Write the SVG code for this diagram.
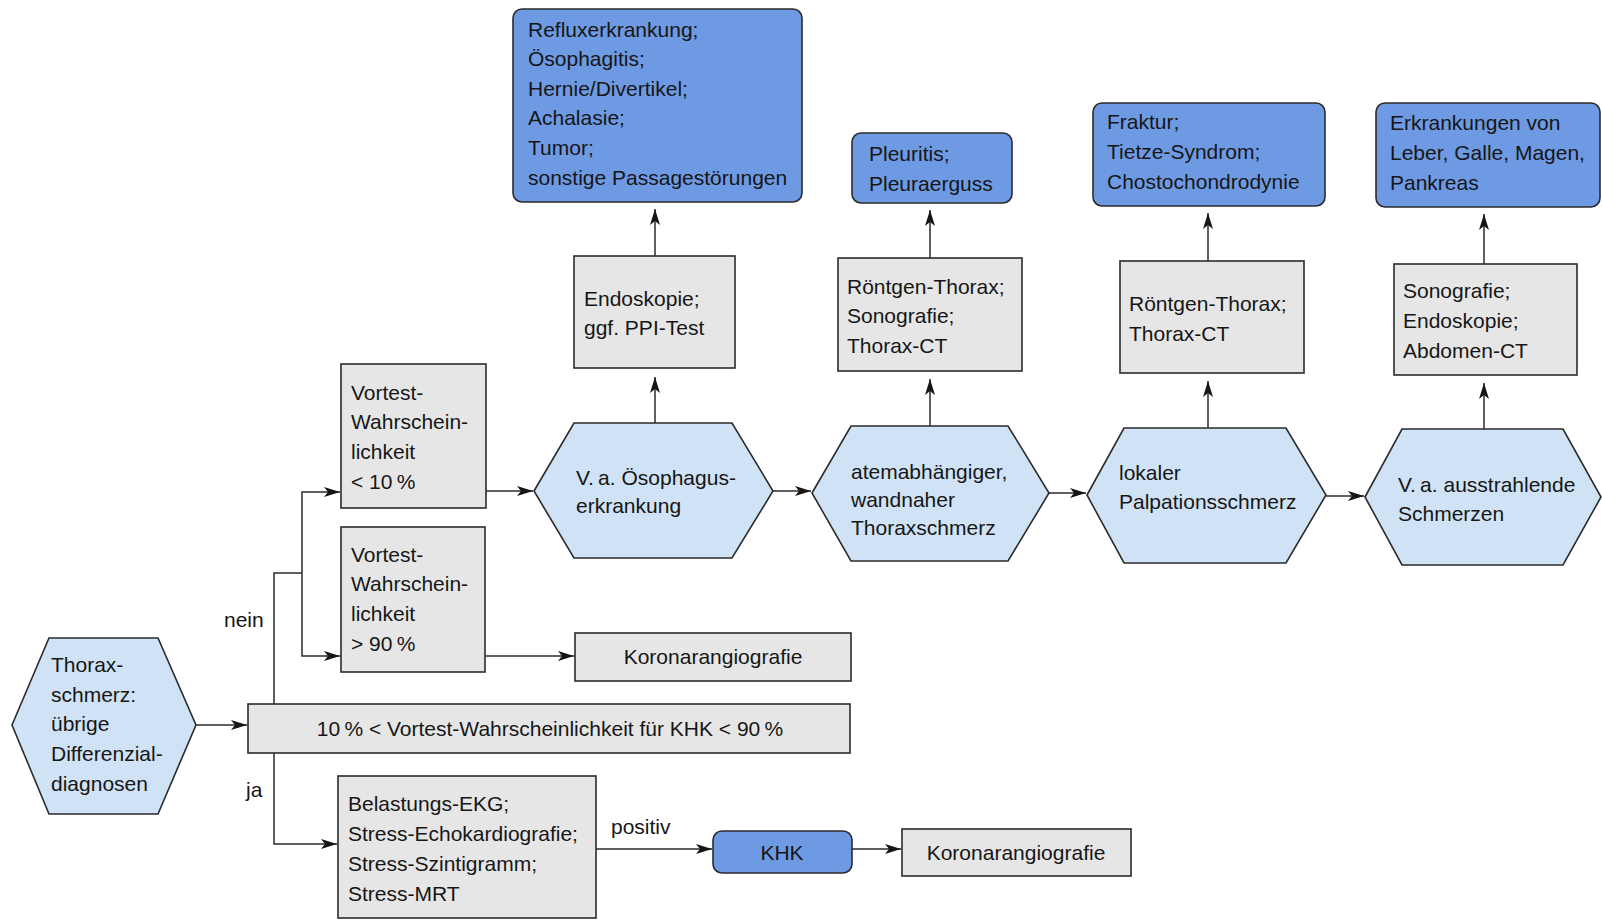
<svg xmlns="http://www.w3.org/2000/svg" width="1602" height="920" viewBox="0 0 1602 920">
<defs>
<style>
text{font-family:"Liberation Sans",Arial,sans-serif;font-size:21px;fill:#161616}
.mid{text-anchor:middle}
.hex{fill:#d0e2f5;stroke:#2b2b2b;stroke-width:1.6}
.grey{fill:#e6e6e6;stroke:#2b2b2b;stroke-width:1.6}
.dark{fill:#6e9ae4;stroke:#2b2b2b;stroke-width:1.6}
.conn path{fill:none;stroke:#2b2b2b;stroke-width:1.5}
</style>
<marker id="ah" viewBox="0 0 16 10" refX="16" refY="5" markerWidth="16" markerHeight="10" orient="auto" markerUnits="userSpaceOnUse"><path d="M0,0 L16,5 L0,10 L4,5 z" fill="#161616"/></marker>
</defs>
<rect width="1602" height="920" fill="#ffffff"/>

<g class="conn">
<path d="M196,725 H247" marker-end="url(#ah)"/>
<path d="M274,704 V573 H302"/>
<path d="M302,573 V492 H340" marker-end="url(#ah)"/>
<path d="M302,573 V656 H340" marker-end="url(#ah)"/>
<path d="M274,753 V844 H337" marker-end="url(#ah)"/>
<path d="M486,491 H533" marker-end="url(#ah)"/>
<path d="M485,656 H574" marker-end="url(#ah)"/>
<path d="M596,849 H712" marker-end="url(#ah)"/>
<path d="M852,849 H901" marker-end="url(#ah)"/>
<path d="M773,491 H811" marker-end="url(#ah)"/>
<path d="M1049,493 H1086" marker-end="url(#ah)"/>
<path d="M1326,496 H1364" marker-end="url(#ah)"/>
<path d="M655,423 V377" marker-end="url(#ah)"/>
<path d="M655,256 V209" marker-end="url(#ah)"/>
<path d="M930,426 V379" marker-end="url(#ah)"/>
<path d="M930,258 V210" marker-end="url(#ah)"/>
<path d="M1208,428 V381" marker-end="url(#ah)"/>
<path d="M1208,261 V213" marker-end="url(#ah)"/>
<path d="M1484,429 V383" marker-end="url(#ah)"/>
<path d="M1484,264 V214" marker-end="url(#ah)"/>
</g>

<g id="thorax">
<polygon class="hex" points="12,725 49,638 158,638 196,725 158,814 49,814"/>
<text x="51" y="672">Thorax-</text>
<text x="51" y="702">schmerz:</text>
<text x="51" y="731">übrige</text>
<text x="51" y="761">Differenzial-</text>
<text x="51" y="791">diagnosen</text>
</g>

<g id="range">
<rect class="grey" x="248" y="704" width="602" height="49"/>
<text class="mid" x="550" y="736">10&#8201;% &lt; Vortest-Wahrscheinlichkeit für KHK &lt; 90&#8201;%</text>
</g>

<g id="v10">
<rect class="grey" x="341" y="364" width="145" height="144"/>
<text x="351" y="400">Vortest-</text>
<text x="351" y="429">Wahrschein-</text>
<text x="351" y="459">lichkeit</text>
<text x="351" y="489">&lt; 10&#8201;%</text>
</g>

<g id="v90">
<rect class="grey" x="341" y="527" width="144" height="145"/>
<text x="351" y="562">Vortest-</text>
<text x="351" y="591">Wahrschein-</text>
<text x="351" y="621">lichkeit</text>
<text x="351" y="651">&gt; 90&#8201;%</text>
</g>

<g id="korona1">
<rect class="grey" x="575" y="633" width="276" height="48"/>
<text class="mid" x="713" y="664">Koronarangiografie</text>
</g>

<g id="belastung">
<rect class="grey" x="338" y="776" width="258" height="142"/>
<text x="348" y="811">Belastungs-EKG;</text>
<text x="348" y="841">Stress-Echokardiografie;</text>
<text x="348" y="871">Stress-Szintigramm;</text>
<text x="348" y="901">Stress-MRT</text>
</g>

<g id="khk">
<rect class="dark" x="713" y="831" width="139" height="42" rx="9"/>
<text class="mid" x="782" y="860">KHK</text>
</g>

<g id="korona2">
<rect class="grey" x="902" y="829" width="229" height="47"/>
<text class="mid" x="1016" y="860">Koronarangiografie</text>
</g>

<g id="labels">
<text x="224" y="627">nein</text>
<text x="246" y="797">ja</text>
<text x="611" y="834">positiv</text>
</g>

<g id="hex1">
<polygon class="hex" points="534,491 574,423 732,423 773,491 732,558 574,558"/>
<text x="576" y="485">V.&#8201;a. Ösophagus-</text>
<text x="576" y="513">erkrankung</text>
</g>

<g id="hex2">
<polygon class="hex" points="812,493 851,426 1008,426 1049,493 1008,561 851,561"/>
<text x="851" y="479">atemabhängiger,</text>
<text x="851" y="507">wandnaher</text>
<text x="851" y="535">Thoraxschmerz</text>
</g>

<g id="hex3">
<polygon class="hex" points="1087,495 1124,428 1286,428 1326,495 1286,563 1124,563"/>
<text x="1119" y="480">lokaler</text>
<text x="1119" y="509">Palpationsschmerz</text>
</g>

<g id="hex4">
<polygon class="hex" points="1365,497 1402,429 1563,429 1601,497 1563,565 1402,565"/>
<text x="1398" y="492">V.&#8201;a. ausstrahlende</text>
<text x="1398" y="521">Schmerzen</text>
</g>

<g id="endo">
<rect class="grey" x="574" y="256" width="161" height="112"/>
<text x="584" y="306">Endoskopie;</text>
<text x="584" y="335">ggf. PPI-Test</text>
</g>

<g id="reflux">
<rect class="dark" x="513" y="9" width="289" height="193" rx="9"/>
<text x="528" y="37">Refluxerkrankung;</text>
<text x="528" y="66">Ösophagitis;</text>
<text x="528" y="96">Hernie/Divertikel;</text>
<text x="528" y="125">Achalasie;</text>
<text x="528" y="155">Tumor;</text>
<text x="528" y="185">sonstige Passagestörungen</text>
</g>

<g id="rtg1">
<rect class="grey" x="838" y="258" width="184" height="113"/>
<text x="847" y="294">Röntgen-Thorax;</text>
<text x="847" y="323">Sonografie;</text>
<text x="847" y="353">Thorax-CT</text>
</g>

<g id="pleur">
<rect class="dark" x="852" y="133" width="160" height="70" rx="9"/>
<text x="869" y="161">Pleuritis;</text>
<text x="869" y="191">Pleuraerguss</text>
</g>

<g id="rtg2">
<rect class="grey" x="1120" y="261" width="184" height="112"/>
<text x="1129" y="311">Röntgen-Thorax;</text>
<text x="1129" y="341">Thorax-CT</text>
</g>

<g id="fraktur">
<rect class="dark" x="1093" y="103" width="232" height="103" rx="9"/>
<text x="1107" y="129">Fraktur;</text>
<text x="1107" y="159">Tietze-Syndrom;</text>
<text x="1107" y="189">Chostochondrodynie</text>
</g>

<g id="sono">
<rect class="grey" x="1394" y="264" width="183" height="111"/>
<text x="1403" y="298">Sonografie;</text>
<text x="1403" y="328">Endoskopie;</text>
<text x="1403" y="358">Abdomen-CT</text>
</g>

<g id="erkr">
<rect class="dark" x="1376" y="103" width="224" height="104" rx="9"/>
<text x="1390" y="130">Erkrankungen von</text>
<text x="1390" y="160">Leber, Galle, Magen,</text>
<text x="1390" y="190">Pankreas</text>
</g>
</svg>
